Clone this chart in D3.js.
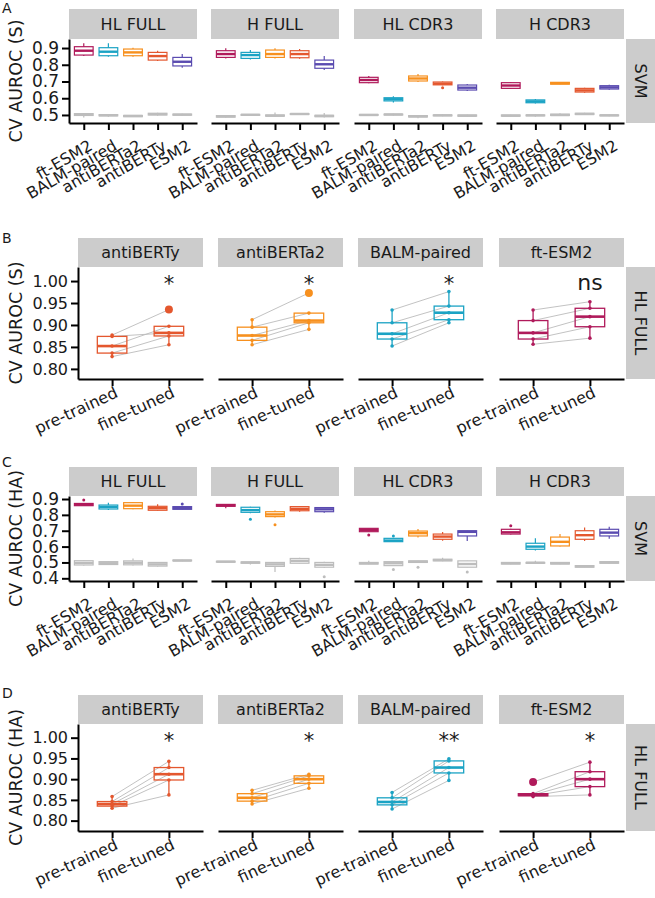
<!DOCTYPE html>
<html><head><meta charset="utf-8">
<script src="https://cdn.jsdelivr.net/npm/d3@7"></script>
<style>body{margin:0;background:#fff}svg text{font-family:"DejaVu Sans",sans-serif;fill:#1a1a1a}</style>
</head><body><svg id="c" width="655" height="898"></svg>
<script>
// ---------------- DATA ----------------
const models = ["ft-ESM2","BALM-paired","antiBERTa2","antiBERTy","ESM2"];
const regions = ["HL FULL","H FULL","HL CDR3","H CDR3"];
const modelColors = ["#B01A5B","#1BA3C4","#F7901E","#E4572E","#5A4BB0"];
const nullColor = "#BDBDBD";

// Panel A: CV AUROC (S), SVM. Each entry: [lower whisker, Q1, median, Q3, upper whisker]
const aHLFull  = [[0.852,0.858,0.884,0.908,0.928],[0.848,0.854,0.878,0.902,0.928],[0.848,0.854,0.874,0.894,0.902],[0.822,0.828,0.852,0.874,0.884],[0.782,0.793,0.818,0.844,0.864]];
const aHFull   = [[0.838,0.844,0.864,0.884,0.898],[0.832,0.838,0.858,0.874,0.888],[0.838,0.844,0.864,0.888,0.898],[0.836,0.842,0.864,0.884,0.894],[0.769,0.779,0.803,0.828,0.852]];
const aHLCdr3  = [[0.690,0.693,0.709,0.725,0.733],[0.575,0.584,0.594,0.603,0.612],[0.697,0.703,0.718,0.733,0.745],[0.677,0.680,0.687,0.697,0.700],[0.643,0.649,0.663,0.679,0.685]];
const aHCdr3   = [[0.655,0.659,0.676,0.693,0.697],[0.568,0.573,0.581,0.590,0.595],[0.682,0.684,0.690,0.695,0.697],[0.633,0.637,0.647,0.659,0.662],[0.650,0.655,0.665,0.675,0.680]];
const aHLFullNull = [[0.485,0.497,0.503,0.508,0.512],[0.490,0.495,0.498,0.502,0.505],[0.488,0.490,0.494,0.497,0.500],[0.496,0.500,0.505,0.510,0.514],[0.495,0.499,0.502,0.505,0.508]];
const aHFullNull  = [[0.482,0.487,0.492,0.496,0.500],[0.495,0.498,0.501,0.503,0.505],[0.490,0.493,0.496,0.500,0.515],[0.500,0.503,0.506,0.508,0.510],[0.485,0.490,0.494,0.498,0.512]];
const aHLCdr3Null = [[0.495,0.498,0.500,0.503,0.505],[0.497,0.500,0.503,0.505,0.507],[0.480,0.488,0.492,0.496,0.500],[0.492,0.495,0.498,0.500,0.503],[0.490,0.493,0.496,0.500,0.502]];
const aHCdr3Null  = [[0.490,0.493,0.496,0.500,0.502],[0.490,0.495,0.498,0.500,0.503],[0.495,0.497,0.500,0.505,0.510],[0.500,0.503,0.506,0.510,0.513],[0.492,0.495,0.498,0.500,0.502]];
const aOutliers = [["HL CDR3","antiBERTy",0.663]];
const aNullOutliers = [];

// Panel C: CV AUROC (HA), SVM
const cHLFull  = [[0.856,0.858,0.865,0.872,0.874],[0.831,0.837,0.850,0.862,0.877],[0.835,0.839,0.858,0.877,0.880],[0.826,0.829,0.842,0.854,0.867],[0.833,0.835,0.843,0.852,0.855]];
const cHFull   = [[0.841,0.854,0.860,0.866,0.868],[0.810,0.816,0.830,0.848,0.852],[0.783,0.789,0.803,0.820,0.827],[0.820,0.826,0.838,0.852,0.855],[0.813,0.820,0.835,0.846,0.849]];
const cHLCdr3  = [[0.692,0.694,0.705,0.715,0.717],[0.629,0.631,0.638,0.652,0.654],[0.658,0.667,0.685,0.698,0.711],[0.637,0.646,0.663,0.679,0.692],[0.635,0.667,0.693,0.700,0.702]];
const cHCdr3   = [[0.677,0.679,0.690,0.709,0.712],[0.575,0.583,0.600,0.621,0.652],[0.600,0.604,0.630,0.660,0.680],[0.635,0.646,0.672,0.700,0.720],[0.650,0.667,0.688,0.709,0.725]];
const cHLFullNull = [[0.480,0.484,0.497,0.511,0.514],[0.485,0.487,0.495,0.505,0.507],[0.480,0.485,0.498,0.510,0.525],[0.475,0.477,0.488,0.500,0.502],[0.508,0.510,0.512,0.515,0.517]];
const cHFullNull  = [[0.500,0.502,0.505,0.507,0.509],[0.487,0.495,0.500,0.503,0.505],[0.440,0.475,0.488,0.500,0.503],[0.493,0.495,0.510,0.525,0.530],[0.465,0.470,0.485,0.500,0.505]];
const cHLCdr3Null = [[0.488,0.490,0.495,0.500,0.510],[0.478,0.480,0.495,0.505,0.507],[0.498,0.500,0.505,0.510,0.512],[0.508,0.510,0.515,0.520,0.530],[0.468,0.470,0.490,0.510,0.512]];
const cHCdr3Null  = [[0.488,0.490,0.495,0.500,0.502],[0.490,0.495,0.498,0.500,0.510],[0.488,0.490,0.495,0.500,0.502],[0.468,0.470,0.475,0.480,0.482],[0.492,0.495,0.500,0.505,0.507]];
const cOutliers = [["HL FULL","ft-ESM2",0.894],["HL FULL","ESM2",0.868],["H FULL","BALM-paired",0.772],["H FULL","antiBERTa2",0.738],["HL CDR3","ft-ESM2",0.673],["HL CDR3","BALM-paired",0.667],["H CDR3","ft-ESM2",0.732]];
const cNullOutliers = [["H FULL","ESM2",0.41],["HL CDR3","BALM-paired",0.455],["HL CDR3","antiBERTa2",0.47],["HL CDR3","ESM2",0.44]];

// Panels B & D: per-fold values, pre-trained vs fine-tuned (HL FULL)
const pairModels = ["antiBERTy","antiBERTa2","BALM-paired","ft-ESM2"];
const stages = ["pre-trained","fine-tuned"];
const bPre  = [[0.877,0.874,0.852,0.836,0.828],[0.912,0.895,0.876,0.865,0.855],[0.934,0.905,0.880,0.868,0.852],[0.934,0.910,0.882,0.868,0.856]];
const bFine = [[0.935,0.882,0.897,0.875,0.855],[0.973,0.927,0.910,0.905,0.890],[0.976,0.943,0.928,0.912,0.905],[0.953,0.938,0.919,0.896,0.870]];
const bSig  = ["*","*","*","ns"];
const dPre  = [[0.858,0.846,0.840,0.835,0.830],[0.873,0.865,0.855,0.847,0.840],[0.868,0.855,0.845,0.838,0.828],[0.893,0.865,0.862,0.860,0.858]];
const dFine = [[0.943,0.928,0.912,0.898,0.862],[0.912,0.908,0.900,0.890,0.878],[0.949,0.944,0.928,0.915,0.897],[0.941,0.918,0.900,0.882,0.862]];
const dSig  = ["*","*","**","*"];

const ticksAB = [0.5,0.6,0.7,0.8,0.9];
const ticksC  = [0.4,0.5,0.6,0.7,0.8,0.9];
const ticksBD = [0.80,0.85,0.90,0.95,1.00];

// ---------------- DRAWING ----------------
const svg = d3.select("#c");
const colsAC = [[69,197],[211,339],[354,482],[496,624]];
const colsBD = [[78,203],[218,343],[358,483],[499,624]];
const stripFill = "#CCCCCC";
const FS = 16;

function drawFrame(cfg){
  const {letter, letterY, stripTop, plotTop, plotBottom, cols, stripLabels, rightLabel, y, ticks, fmt, cats, title} = cfg;
  svg.append("text").attr("x",2).attr("y",letterY).attr("font-size",14).text(letter);
  const xs = [];
  cols.forEach((c,i)=>{
    svg.append("rect").attr("x",c[0]).attr("y",stripTop).attr("width",c[1]-c[0]).attr("height",plotTop-stripTop).attr("fill",stripFill);
    svg.append("text").attr("x",(c[0]+c[1])/2).attr("y",(stripTop+plotTop)/2+5.8).attr("text-anchor","middle").attr("font-size",FS).text(stripLabels[i]);
    const x = d3.scalePoint().domain(cats).range(c).padding(0.6);
    xs.push(x);
    const ax = svg.append("g").attr("transform",`translate(0,${plotBottom})`)
      .call(d3.axisBottom(x).tickSize(7).tickSizeOuter(0).tickFormat(""));
    ax.select(".domain").attr("stroke","#000").attr("stroke-width",2);
    ax.selectAll(".tick line").attr("stroke","#000").attr("stroke-width",2);
    cats.forEach(cat=>{
      svg.append("text").attr("font-size",cfg.lblFS).attr("text-anchor","end")
        .attr("transform",`translate(${x(cat)+cfg.lblDx},${plotBottom+cfg.lblDy}) rotate(${-cfg.lblAngle})`)
        .attr("dy","0.72em").text(cat);
    });
  });
  // right strip
  svg.append("rect").attr("x",626).attr("y",plotTop).attr("width",29).attr("height",plotBottom-plotTop).attr("fill",stripFill);
  svg.append("text").attr("transform",`translate(640.5,${(plotTop+plotBottom)/2}) rotate(90)`)
    .attr("text-anchor","middle").attr("dy","0.36em").attr("font-size",FS).text(rightLabel);
  // y axis
  const ay = svg.append("g").attr("transform",`translate(${cols[0][0]},0)`)
    .call(d3.axisLeft(y).tickValues(ticks).tickFormat(d3.format(fmt)).tickSize(7).tickPadding(3).tickSizeOuter(0));
  ay.select(".domain").attr("stroke","#000").attr("stroke-width",2);
  ay.selectAll(".tick line").attr("stroke","#000").attr("stroke-width",2);
  ay.selectAll(".tick text").attr("font-size",cfg.tickFS).attr("fill","#1a1a1a").attr("font-family",'"DejaVu Sans",sans-serif');
  svg.append("text").attr("transform",`translate(22,${(plotTop+plotBottom)/2}) rotate(-90)`)
    .attr("text-anchor","middle").attr("font-size",17.5).text(title);
  return xs;
}

function drawBox(g, cx, hw, s, color, y, lw){
  g.append("line").attr("x1",cx).attr("x2",cx).attr("y1",y(s[4])).attr("y2",y(s[3])).attr("stroke",color).attr("stroke-width",lw);
  g.append("line").attr("x1",cx).attr("x2",cx).attr("y1",y(s[1])).attr("y2",y(s[0])).attr("stroke",color).attr("stroke-width",lw);
  g.append("rect").attr("x",cx-hw).attr("y",y(s[3])).attr("width",2*hw).attr("height",Math.max(0.5,y(s[1])-y(s[3])))
    .attr("fill","none").attr("stroke",color).attr("stroke-width",lw);
  g.append("line").attr("x1",cx-hw).attr("x2",cx+hw).attr("y1",y(s[2])).attr("y2",y(s[2])).attr("stroke",color).attr("stroke-width",lw*2);
}

function svmRow(cfg, realSets, nullSets, outs, nullOuts){
  const y = d3.scaleLinear().domain(cfg.domain).range([cfg.plotBottom, cfg.plotTop]);
  const xs = drawFrame({...cfg, y, cats:models, cols:colsAC, stripLabels:regions, rightLabel:"SVM", lblDx:4, lblDy:16, lblFS:16, lblAngle:30, tickFS:17});
  regions.forEach((r,ri)=>{
    const x = xs[ri], hw = x.step()*0.38;
    const g = svg.append("g");
    models.forEach((m,mi)=>{
      drawBox(g, x(m), hw, nullSets[ri][mi], nullColor, y, 1.2);
      drawBox(g, x(m), hw, realSets[ri][mi], modelColors[mi], y, 1.2);
    });
    nullOuts.filter(o=>o[0]===r).forEach(o=>g.append("circle").attr("cx",x(o[1])).attr("cy",y(o[2])).attr("r",1.5).attr("fill",nullColor));
    outs.filter(o=>o[0]===r).forEach(o=>g.append("circle").attr("cx",x(o[1])).attr("cy",y(o[2])).attr("r",1.5).attr("fill",modelColors[models.indexOf(o[1])]));
  });
}

function boxStats(vals){
  const v = vals.slice().sort(d3.ascending);
  const q1 = d3.quantile(v,0.25), med = d3.quantile(v,0.5), q3 = d3.quantile(v,0.75);
  const iqr = q3-q1, lo = q1-1.5*iqr, hi = q3+1.5*iqr;
  const inside = v.filter(d=>d>=lo&&d<=hi);
  return {s:[d3.min(inside),q1,med,q3,d3.max(inside)], out:v.filter(d=>d<lo||d>hi)};
}

function pairRow(cfg, pre, fine, sig){
  const y = d3.scaleLinear().domain(cfg.domain).range([cfg.plotBottom, cfg.plotTop]);
  const xs = drawFrame({...cfg, y, cats:stages, cols:colsBD, stripLabels:pairModels, rightLabel:"HL FULL", lblDx:2, lblDy:7, lblFS:16, lblAngle:25, tickFS:16});
  pairModels.forEach((m,i)=>{
    const x = xs[i], color = modelColors[models.indexOf(m)], hw = x.step()*0.26;
    const g = svg.append("g");
    pre[i].forEach((v,k)=>g.append("line").attr("x1",x(stages[0])).attr("x2",x(stages[1])).attr("y1",y(v)).attr("y2",y(fine[i][k])).attr("stroke","#BBBBBB").attr("stroke-width",0.9));
    [pre[i], fine[i]].forEach((vals,si)=>{
      const st = boxStats(vals), cx = x(stages[si]);
      drawBox(g, cx, hw, st.s, color, y, 1.3);
      st.out.forEach(o=>g.append("circle").attr("cx",cx).attr("cy",y(o)).attr("r",4).attr("fill",color));
      vals.forEach(v=>g.append("circle").attr("cx",cx).attr("cy",y(v)).attr("r",1.8).attr("fill",color));
    });
    svg.append("text").attr("x",x(stages[1])).attr("y",y(1.0)+(sig[i]==="ns"?9:10)).attr("text-anchor","middle")
      .attr("font-size",sig[i]==="ns"?22:21).text(sig[i]);
  });
}

svmRow({letter:"A",letterY:13,stripTop:9,plotTop:39,plotBottom:123,domain:[0.452,0.954],ticks:ticksAB,fmt:".1f",title:"CV AUROC (S)"},
  [aHLFull,aHFull,aHLCdr3,aHCdr3],[aHLFullNull,aHFullNull,aHLCdr3Null,aHCdr3Null],aOutliers,aNullOutliers);
pairRow({letter:"B",letterY:243,stripTop:238,plotTop:267,plotBottom:379,domain:[0.777,1.032],ticks:ticksBD,fmt:".2f",title:"CV AUROC (S)"},
  bPre,bFine,bSig);
svmRow({letter:"C",letterY:467,stripTop:467,plotTop:496,plotBottom:581,domain:[0.383,0.919],ticks:ticksC,fmt:".1f",title:"CV AUROC (HA)"},
  [cHLFull,cHFull,cHLCdr3,cHCdr3],[cHLFullNull,cHFullNull,cHLCdr3Null,cHCdr3Null],cOutliers,cNullOutliers);
pairRow({letter:"D",letterY:698,stripTop:695,plotTop:724,plotBottom:831,domain:[0.775,1.033],ticks:ticksBD,fmt:".2f",title:"CV AUROC (HA)"},
  dPre,dFine,dSig);
</script></body></html>
